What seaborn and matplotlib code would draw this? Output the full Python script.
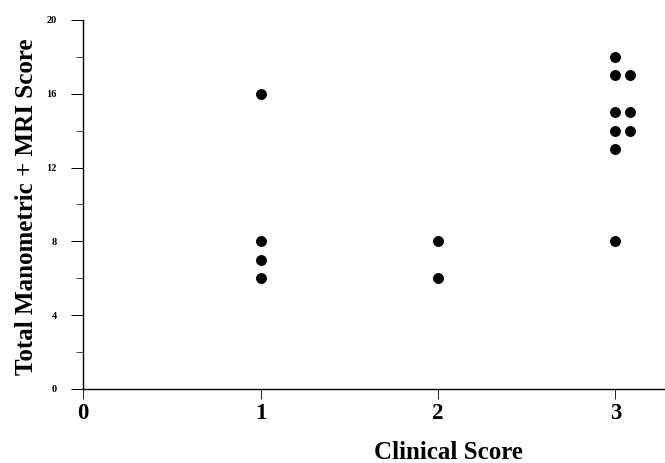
import matplotlib
matplotlib.use("Agg")
import matplotlib.pyplot as plt
import seaborn as sns
import pandas as pd
from matplotlib.ticker import MultipleLocator

# values (right-hand column at 3 is drawn slightly offset)
clinical = [1, 1, 1, 1, 2, 2, 3, 3, 3.08, 3, 3.08, 3, 3.08, 3, 3]
total = [16, 8, 7, 6, 8, 6, 18, 17, 17, 15, 15, 14, 14, 13, 8]
x_ticks = [0, 1, 2, 3]
y_ticks = [0, 4, 8, 12, 16, 20]

df = pd.DataFrame({"Clinical Score": clinical, "Total": total})

sns.set_style("ticks")
plt.rcParams['font.family'] = ['Liberation Serif', 'DejaVu Serif']
plt.rcParams['font.weight'] = 'bold'
plt.rcParams['text.color'] = 'black'
plt.rcParams['axes.labelcolor'] = 'black'
plt.rcParams['axes.edgecolor'] = 'black'
plt.rcParams['xtick.color'] = 'black'
plt.rcParams['ytick.color'] = 'black'

fig = plt.figure(figsize=(6.65, 4.63), dpi=100)
ax = fig.add_axes([0.125, 0.16, 0.875, 0.797])

sns.scatterplot(data=df, x="Clinical Score", y="Total", color="black",
                s=62, edgecolor="black", linewidth=0, ax=ax, clip_on=False)

ax.set_xlim(0, 3.28)
ax.set_ylim(0, 20)
ax.set_xticks(x_ticks)
ax.set_yticks(y_ticks)
ax.yaxis.set_minor_locator(MultipleLocator(2))
ax.set_xticklabels([str(t) for t in x_ticks], fontsize=16.5, fontweight='bold')
ax.set_yticklabels([str(t) for t in y_ticks], fontsize=7.5, fontweight='bold')

sns.despine(ax=ax)
ax.spines['left'].set_linewidth(1.0)
ax.spines['bottom'].set_linewidth(1.0)
ax.tick_params(axis='y', which='major', length=9, width=0.7, pad=10)
ax.tick_params(axis='y', which='minor', length=5, width=0.5)
ax.tick_params(axis='x', which='major', length=7, width=0.6, pad=3)

ax.set_xlabel("Clinical Score", fontsize=18, fontweight='bold')
ax.xaxis.set_label_coords(0.627, -0.142)
ax.set_ylabel("Total Manometric + MRI Score", fontsize=18, fontweight='bold')
ax.yaxis.set_label_coords(-0.078, 0.493)

fig.savefig("out.png", dpi=100)
